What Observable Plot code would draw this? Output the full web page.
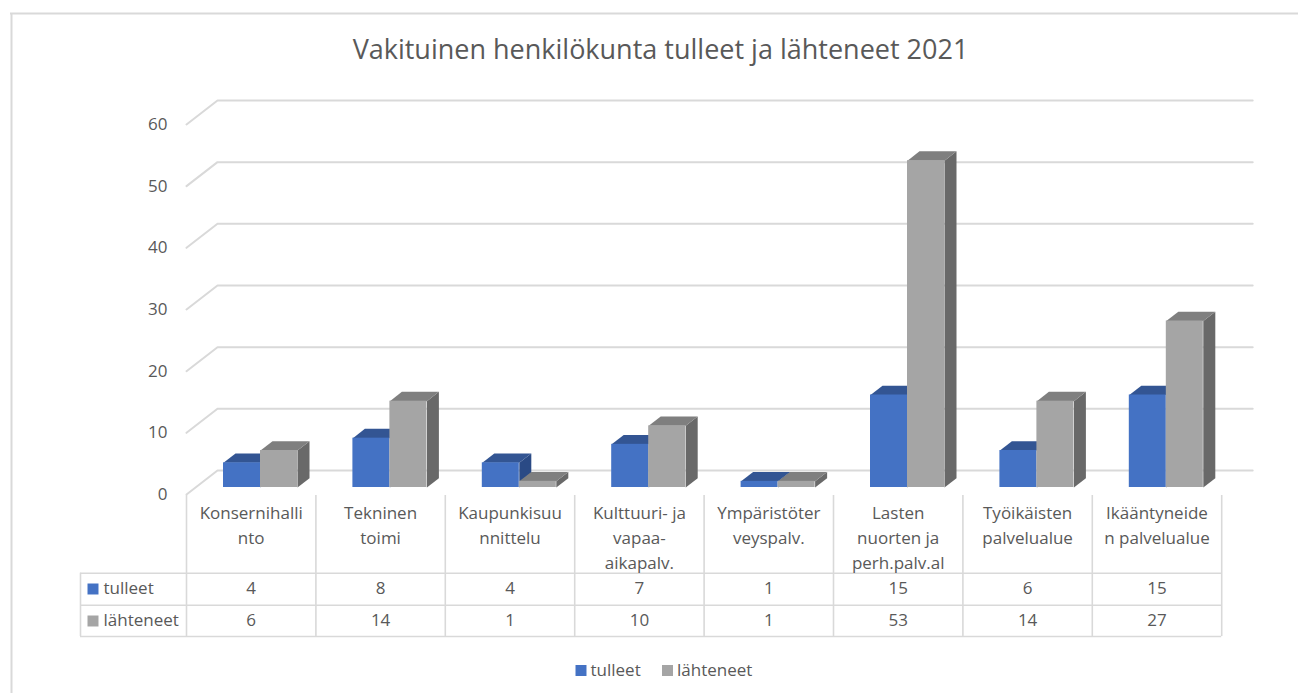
<!DOCTYPE html>
<html>
<head>
<meta charset="utf-8">
<script src="https://cdn.jsdelivr.net/npm/d3@7"></script>
<script src="https://cdn.jsdelivr.net/npm/@observablehq/plot@0.6"></script>
<style>
html,body{margin:0;padding:0;background:#fff;overflow:hidden}
svg{display:block}
</style>
</head>
<body>
<div id="chart"></div>
<script>
const chartTitle = "Vakituinen henkilökunta tulleet ja lähteneet 2021";
const categories = ["Konsernihalli\nnto","Tekninen\ntoimi","Kaupunkisuu\nnnittelu","Kulttuuri- ja\nvapaa-\naikapalv.","Ympäristöter\nveyspalv.","Lasten\nnuorten ja\nperh.palv.al","Työikäisten\npalvelualue","Ikääntyneide\nn palvelualue"];
const tulleet = [4,8,4,7,1,15,6,15];
const lahteneet = [6,14,1,10,1,53,14,27];
const seriesNames = ["tulleet","lähteneet"];
const yTicks = [0,10,20,30,40,50,60];

const W = 1298, H = 693, x0 = 186, xUnit = 129.4, y0 = 494, yUnit = 6.1667;
const font = "'Open Sans', sans-serif", ink = "#595959", line = "#d9d9d9";
const px = v => (v - x0) / xUnit, py = v => (y0 - v) / yUnit;

// depth of the wall and of the bars, in scale units
const wallDx = 31 / xUnit, wallDy = 24 / yUnit;
const barOffX = 37 / xUnit, barW = 37 / xUnit, barBaseDy = 7 / yUnit;
const barDx = 12 / xUnit, barDy = 9.3 / yUnit;

const gridLines = yTicks.flatMap(t => [
  {t, x: 0, y: t}, {t, x: wallDx, y: t + wallDy}, {t, x: 8 + wallDx, y: t + wallDy}
]);

function bar(i, k, v) {
  const a = i + barOffX + k * barW, b = a + barW, low = barBaseDy, top = v + barBaseDy;
  return {
    id: `${i}-${k}`, a, b, low, top,
    side: [[b,low],[b+barDx,low+barDy],[b+barDx,top+barDy],[b,top]].map(([x,y]) => ({id:`${i}-${k}`,x,y})),
    lid:  [[a,top],[a+barDx,top+barDy],[b+barDx,top+barDy],[b,top]].map(([x,y]) => ({id:`${i}-${k}`,x,y}))
  };
}
const series = [
  {vals: tulleet,   front: "#4472c4", lid: "#335593", side: "#2a4a85"},
  {vals: lahteneet, front: "#a5a5a5", lid: "#7f7f7f", side: "#696969"}
];
const barMarks = categories.flatMap((_, i) => series.flatMap((s, k) => {
  const b = bar(i, k, s.vals[i]);
  return [
    Plot.line(b.side, {x:"x", y:"y", z:"id", fill:s.side, stroke:"none"}),
    Plot.line(b.lid,  {x:"x", y:"y", z:"id", fill:s.lid,  stroke:"none"}),
    Plot.rect([b], {x1:"a", x2:"b", y1:"low", y2:"top", fill:s.front})
  ];
}));

const rowTop = py(572.7), rowMid = py(604.7), rowBot = py(636);
const rowC = [py(588.5), py(620.5)];
const tableLeft = px(80);
const colEdges = d3.range(9);
const size = 17;
const tableMarks = [
  Plot.ruleX(colEdges, {x: d=>d, y1: py(495), y2: rowBot, stroke: line, strokeWidth: 1.6}),
  Plot.ruleX([tableLeft], {y1: rowTop, y2: rowBot, stroke: line, strokeWidth: 1.6}),
  Plot.ruleY([rowTop,rowMid,rowBot], {x1: tableLeft, x2: 8, y: d=>d, stroke: line, strokeWidth: 1.6}),
  Plot.text(categories, {x:(d,i)=>i+0.5, y:py(500.5), text:d=>d, lineAnchor:"top", lineHeight:1.47, fontSize:size, fill:ink, fontFamily:font}),
  ...series.map((s,k)=>Plot.text(s.vals, {x:(d,i)=>i+0.5, y:rowC[k], text:d=>String(d), fontSize:size, fill:ink, fontFamily:font})),
  ...series.map((s,k)=>Plot.dot([0], {x:px(92.5), y:rowC[k], symbol:"square", r:6.2, fill:s.front, stroke:"none"})),
  ...seriesNames.map((n,k)=>Plot.text([n], {x:px(103), y:rowC[k]+0.1, text:d=>d, textAnchor:"start", fontSize:size, fill:ink, fontFamily:font}))
];

const legendX = [580.5, 667], legendY = py(670);
const legendMarks = seriesNames.flatMap((n,k)=>[
  Plot.dot([0], {x:px(legendX[k]), y:legendY, symbol:"square", r:6.2, fill:series[k].front, stroke:"none"}),
  Plot.text([n], {x:px(legendX[k]+9.5), y:legendY, text:d=>d, textAnchor:"start", fontSize:size, fill:ink, fontFamily:font})
]);

const chart = Plot.plot({
  width: W, height: H, margin: 0,
  x: {type:"linear", domain:[px(0), px(W)], axis:null},
  y: {type:"linear", domain:[py(H), py(0)], axis:null},
  style: {background:"#fff", fontFamily:font},
  marks: [
    Plot.ruleX([px(11)], {y1:py(13), y2:py(H), stroke:line, strokeWidth:2}),
    Plot.ruleY([py(13)], {x1:px(10), x2:px(W), stroke:line, strokeWidth:2}),
    Plot.text([chartTitle], {x:px(660), y:py(50), text:d=>d, fontSize:27, fill:ink, fontFamily:font}),
    Plot.line(gridLines, {x:"x", y:"y", z:"t", stroke:line, strokeWidth:2}),
    Plot.text(yTicks, {x:0, y:d=>d, dx:-19, text:d=>String(d), textAnchor:"end", fontSize:size, fill:ink, fontFamily:font}),
    ...barMarks,
    ...tableMarks,
    ...legendMarks
  ]
});
document.getElementById("chart").append(chart);
</script>
</body>
</html>
